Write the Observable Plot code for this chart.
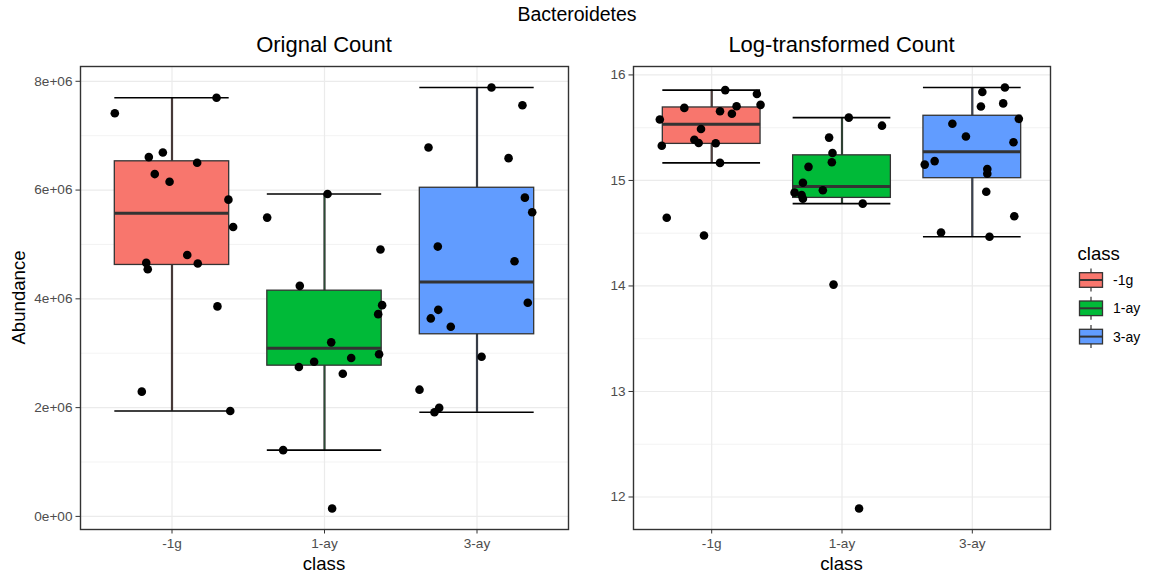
<!DOCTYPE html>
<html>
<head>
<meta charset="utf-8">
<script src="https://cdn.jsdelivr.net/npm/d3@7"></script>
<script src="https://cdn.jsdelivr.net/npm/@observablehq/plot@0.6"></script>
<style>
  html, body { margin: 0; padding: 0; background: #fff; }
  #chart {
    position: relative; width: 1153px; height: 578px; overflow: hidden;
    font-family: "Liberation Sans", Arial, Helvetica, sans-serif;
  }
  #chart > svg { position: absolute; top: 0; }
</style>
</head>
<body>
<div id="chart"></div>
<script>
// Sample classes and their fill colours
const classes = ["-1g", "1-ay", "3-ay"];
const classColors = ["#F8766D", "#00BA38", "#619CFF"];

// Bacteroidetes abundance per sample, by class
const abundanceNeg1g = [7696000, 7413000, 6692000, 6606000, 6503000, 6294000, 6154000, 5824000,
                        5321000, 4807000, 4661000, 4649000, 4545000, 3861000, 2294000, 1939000];
const abundance1ay   = [5927000, 5494000, 4906000, 4239000, 3884000, 3719000, 3200000, 2980000,
                        2912000, 2844000, 2747000, 2624000, 1218000, 146000];
const abundance3ay   = [7885000, 7560000, 6784000, 6587000, 5861000, 5591000, 4961000, 4692000,
                        3927000, 3798000, 3640000, 3486000, 2936000, 2330000, 1995000, 1916000];

// Horizontal jitter of each sample (in category units), raw-count panel
const jitterCountNeg1g = [0.292, -0.375, -0.060, -0.152, 0.165, -0.113, -0.016, 0.370,
                          0.401, 0.100, -0.169, 0.169, -0.159, 0.298, -0.198, 0.382];
const jitterCount1ay   = [0.020, -0.376, 0.367, -0.162, 0.378, 0.352, 0.044, 0.358,
                          0.175, -0.068, -0.168, 0.120, -0.271, 0.050];
const jitterCount3ay   = [0.095, 0.298, -0.318, 0.207, 0.314, 0.362, -0.257, 0.246,
                          0.333, -0.254, -0.303, -0.172, 0.030, -0.377, -0.248, -0.279];

// Horizontal jitter of each sample, log panel
const jitterLogNeg1g = [0.104, 0.347, 0.375, 0.191, -0.210, 0.064, 0.155, -0.398,
                        -0.082, -0.133, -0.100, 0.031, -0.383, 0.064, -0.345, -0.059];
const jitterLog1ay   = [0.052, 0.307, -0.099, -0.073, -0.078, -0.257, -0.300, -0.147,
                        -0.364, -0.310, -0.300, 0.159, -0.065, 0.131];
const jitterLog3ay   = [0.250, 0.077, 0.237, 0.066, 0.357, -0.153, -0.049, 0.316,
                        -0.289, -0.365, 0.115, 0.115, 0.107, 0.322, -0.240, 0.132];

// Axis ticks
const countTicks = [0, 2e6, 4e6, 6e6, 8e6];
const countMinorTicks = [1e6, 3e6, 5e6, 7e6];
const logTicks = [12, 13, 14, 15, 16];
const logMinorTicks = [12.5, 13.5, 14.5, 15.5];

const FONT = '"Liberation Sans", Arial, Helvetica, sans-serif';

// R-style scientific label: 8e+06
function sciLabel(v) {
  const [m, e] = v.toExponential(0).split("e");
  const sign = e[0] === "-" ? "-" : "+";
  return m + "e" + sign + e.replace(/^[+-]/, "").padStart(2, "0");
}

// Tukey box statistics (type-7 quantiles, whiskers at 1.5 IQR)
function boxStats(values) {
  const s = values.slice().sort(d3.ascending);
  const q1 = d3.quantileSorted(s, 0.25);
  const med = d3.quantileSorted(s, 0.5);
  const q3 = d3.quantileSorted(s, 0.75);
  const iqr = q3 - q1;
  const lo = d3.min(s.filter(v => v >= q1 - 1.5 * iqr));
  const hi = d3.max(s.filter(v => v <= q3 + 1.5 * iqr));
  return {q1, med, q3, lo, hi};
}

function boxPanel({values, jitters, transform, ticks, minorTicks, tickFormat, left, width, marginLeft, marginRight}) {
  const rows = [];
  const stats = [];
  classes.forEach((cls, i) => {
    const v = values[i].map(transform);
    v.forEach((val, j) => rows.push({cls, pos: i + 1, value: val, jit: jitters[i][j]}));
    stats.push({cls, pos: i + 1, fill: classColors[i],
                tint: d3.interpolateRgb("#333333", classColors[i])(0.22), ...boxStats(v)});
  });
  const [lo, hi] = d3.extent(rows, d => d.value);
  const pad = (hi - lo) * 0.05;
  const half = 0.375;

  const svg = Plot.plot({
    width, height: 578,
    marginTop: 66, marginBottom: 49, marginLeft, marginRight,
    x: {type: "linear", domain: [0.4, 3.6]},
    y: {domain: [lo - pad, hi + pad]},
    color: {type: "identity"},
    style: {fontFamily: FONT, fontSize: "13.6px", background: "transparent", overflow: "visible"},
    marks: [
      Plot.ruleY(minorTicks, {stroke: "#ebebeb", strokeWidth: 0.6}),
      Plot.ruleY(ticks, {stroke: "#ebebeb", strokeWidth: 1.2}),
      Plot.ruleX([1, 2, 3], {stroke: "#ebebeb", strokeWidth: 1.2}),
      // error-bar style whiskers
      Plot.ruleX(stats, {x: "pos", y1: "lo", y2: "hi", stroke: "#333333", strokeWidth: 2.2}),
      Plot.ruleX(stats, {x: "pos", y1: "lo", y2: "hi", stroke: "tint", strokeWidth: 0.9}),
      Plot.ruleY(stats, {y: "hi", x1: d => d.pos - half, x2: d => d.pos + half, stroke: "#000", strokeWidth: 1.6}),
      Plot.ruleY(stats, {y: "lo", x1: d => d.pos - half, x2: d => d.pos + half, stroke: "#000", strokeWidth: 1.6}),
      // boxes and medians
      Plot.rect(stats, {x1: d => d.pos - half, x2: d => d.pos + half, y1: "q1", y2: "q3",
                        fill: "fill", stroke: "#333333", strokeWidth: 1.3}),
      Plot.ruleY(stats, {y: "med", x1: d => d.pos - half, x2: d => d.pos + half, stroke: "#333333", strokeWidth: 3}),
      // jittered samples
      Plot.dot(rows, {x: d => d.pos + d.jit, y: "value", r: 4.3, fill: "#000", stroke: "none"}),
      Plot.frame({stroke: "#333333", strokeWidth: 1.4}),
      Plot.axisY({ticks, tickFormat, tickSize: 4.5, tickPadding: 3.5, label: null,
                  stroke: "#333333", fill: "#4d4d4d"}),
      Plot.axisX({ticks: [1, 2, 3], tickFormat: d => classes[d - 1], tickSize: 4.5, tickPadding: 4.5,
                  label: null, stroke: "#333333", fill: "#4d4d4d"})
    ]
  });
  svg.style.left = left + "px";
  return svg;
}

const chart = document.getElementById("chart");
const values = [abundanceNeg1g, abundance1ay, abundance3ay];

chart.appendChild(boxPanel({
  values, jitters: [jitterCountNeg1g, jitterCount1ay, jitterCount3ay],
  transform: v => v, ticks: countTicks, minorTicks: countMinorTicks, tickFormat: sciLabel,
  left: 0, width: 580, marginLeft: 80, marginRight: 12
}));

chart.appendChild(boxPanel({
  values, jitters: [jitterLogNeg1g, jitterLog1ay, jitterLog3ay],
  transform: Math.log, ticks: logTicks, minorTicks: logMinorTicks, tickFormat: d => String(d),
  left: 580, width: 480, marginLeft: 53, marginRight: 10
}));

// Titles, axis titles and legend
const overlay = d3.select(chart).append("svg")
  .attr("width", 1153).attr("height", 578)
  .style("left", "0px").style("pointer-events", "none")
  .style("font-family", FONT);

overlay.append("text").attr("x", 577).attr("y", 20.5).attr("text-anchor", "middle")
  .attr("font-size", 19.5).text("Bacteroidetes");
overlay.append("text").attr("x", 324).attr("y", 51.5).attr("text-anchor", "middle")
  .attr("font-size", 22).text("Orignal Count");
overlay.append("text").attr("x", 841.5).attr("y", 51.5).attr("text-anchor", "middle")
  .attr("font-size", 22).text("Log-transformed Count");
overlay.append("text").attr("x", 324).attr("y", 570).attr("text-anchor", "middle")
  .attr("font-size", 18.6).text("class");
overlay.append("text").attr("x", 841.5).attr("y", 570).attr("text-anchor", "middle")
  .attr("font-size", 18.6).text("class");
overlay.append("text").attr("transform", "translate(24.5,297.5) rotate(-90)").attr("text-anchor", "middle")
  .attr("font-size", 18.6).text("Abundance");

const legend = overlay.append("g");
legend.append("text").attr("x", 1077.5).attr("y", 259.5).attr("font-size", 18.6).text("class");
classes.forEach((cls, i) => {
  const cy = 280 + i * 28.3;
  const g = legend.append("g");
  g.append("line").attr("x1", 1091).attr("x2", 1091).attr("y1", cy - 11.5).attr("y2", cy + 11.5)
    .attr("stroke", "#333").attr("stroke-width", 1.2);
  g.append("rect").attr("x", 1079.5).attr("y", cy - 7.3).attr("width", 23).attr("height", 14.6)
    .attr("fill", classColors[i]).attr("stroke", "#333").attr("stroke-width", 1.3);
  g.append("line").attr("x1", 1079.5).attr("x2", 1102.5).attr("y1", cy).attr("y2", cy)
    .attr("stroke", "#333").attr("stroke-width", 2);
  g.append("text").attr("x", 1113).attr("y", cy + 5).attr("font-size", 14).text(cls);
});
</script>
</body>
</html>
